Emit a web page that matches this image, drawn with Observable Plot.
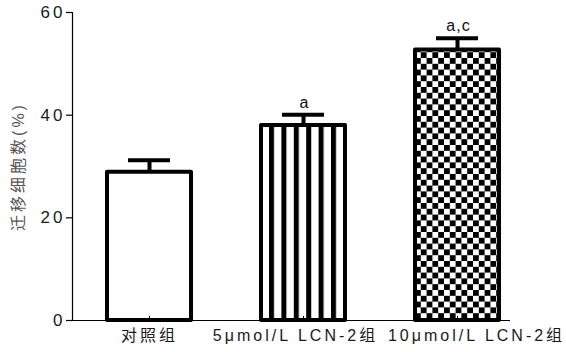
<!DOCTYPE html>
<html>
<head>
<meta charset="utf-8">
<script src="https://cdn.jsdelivr.net/npm/d3@7"></script>
<script src="https://cdn.jsdelivr.net/npm/@observablehq/plot@0.6"></script>
<style>
  html, body { margin: 0; padding: 0; background: white; }
  #chart svg { display: block; }
  .sig text { letter-spacing: 1px; }
</style>
</head>
<body>
<div id="chart"></div>
<script>
const categories = ["对照组", "5μmol/L LCN-2组", "10μmol/L LCN-2组"];
const values = [28.9, 38.0, 52.7];
const errors = [2.3, 2.1, 2.3];
const sigLabels = ["", "a", "a,c"];
const yTicks = [0, 20, 40, 60];
const yTitle = "迁移细胞数(%)";

const data = categories.map((c, i) => ({cat: c, value: values[i], err: errors[i], sig: sigLabels[i]}));

const font = "'Liberation Sans', Arial, 'Noto Sans CJK SC', sans-serif";

const chart = Plot.plot({
  width: 566,
  height: 352,
  marginLeft: 72,
  marginRight: 56,
  marginTop: 12,
  marginBottom: 32,
  style: {fontFamily: font, fontSize: "16px", color: "#111", background: "white", overflow: "visible", letterSpacing: "3px"},
  x: {domain: categories, range: [72, 533], paddingInner: 0.456, paddingOuter: 0.22, axis: null},
  y: {domain: [0, 60], axis: null},
  color: {type: "ordinal", domain: categories, range: ["white", "url(#stripes)", "url(#checker)"]},
  marks: [
    Plot.barY(data, {x: "cat", y: "value", fill: "cat", stroke: "black", strokeWidth: 4, strokeLinejoin: "round"}),
    Plot.ruleX(data, {x: "cat", y1: "value", y2: d => d.value + d.err, stroke: "black", strokeWidth: 4}),
    Plot.tickY(data, {x: "cat", y: d => d.value + d.err, stroke: "black", strokeWidth: 4, insetLeft: 21, insetRight: 21}),
    Plot.text(data, {x: "cat", y: d => d.value + d.err, text: "sig", className: "sig", lineAnchor: "bottom", dy: -7, dx: 1, fontSize: 16, fill: "#111"}),
    Plot.ruleY([0], {stroke: "black", strokeWidth: 1.2}),
    Plot.frame({anchor: "left", stroke: "black", strokeWidth: 1.2}),
    Plot.ruleX(categories, {x: d => d, y1: 0, y2: 0.8, stroke: "black", strokeWidth: 1}),
    Plot.axisY({ticks: yTicks, label: null, tickSize: 6, tickPadding: 1, fontSize: 17, fill: "#1a1a1a", stroke: "black", strokeWidth: 1.2}),
    Plot.text([categories[0]], {x: d => d, y: 0, lineAnchor: "top", dy: 9, dx: 0, fontSize: 16, fill: "#1a1a1a"}),
    Plot.text([categories[1]], {x: d => d, y: 0, lineAnchor: "top", dy: 9, dx: -8, fontSize: 16, fill: "#1a1a1a"}),
    Plot.text([categories[2]], {x: d => d, y: 0, lineAnchor: "top", dy: 9, dx: 19, fontSize: 16, fill: "#1a1a1a"}),
    Plot.text([yTitle], {frameAnchor: "left", textAnchor: "middle", lineAnchor: "middle", rotate: -90, dx: -54, fontSize: 16, fill: "#555"})
  ]
});

// Fill patterns for the hatched bars
const xs = chart.scale("x");
const s2 = xs.apply(categories[1]);
const s3 = xs.apply(categories[2]);
const svg = d3.select(chart);
const defs = svg.insert("defs", ":first-child");
const stripes = defs.append("pattern")
  .attr("id", "stripes").attr("patternUnits", "userSpaceOnUse")
  .attr("x", s2 + 8).attr("y", 0).attr("width", 12.4).attr("height", 10);
stripes.append("rect").attr("width", 12.4).attr("height", 10).attr("fill", "white");
stripes.append("rect").attr("width", 5).attr("height", 10).attr("fill", "black");
const checker = defs.append("pattern")
  .attr("id", "checker").attr("patternUnits", "userSpaceOnUse")
  .attr("x", s3).attr("y", 0).attr("width", 11.6).attr("height", 11.6);
checker.append("rect").attr("width", 11.6).attr("height", 11.6).attr("fill", "white");
checker.append("rect").attr("width", 5.8).attr("height", 5.8).attr("fill", "black");
checker.append("rect").attr("x", 5.8).attr("y", 5.8).attr("width", 5.8).attr("height", 5.8).attr("fill", "black");

document.getElementById("chart").appendChild(chart);
</script>
</body>
</html>
